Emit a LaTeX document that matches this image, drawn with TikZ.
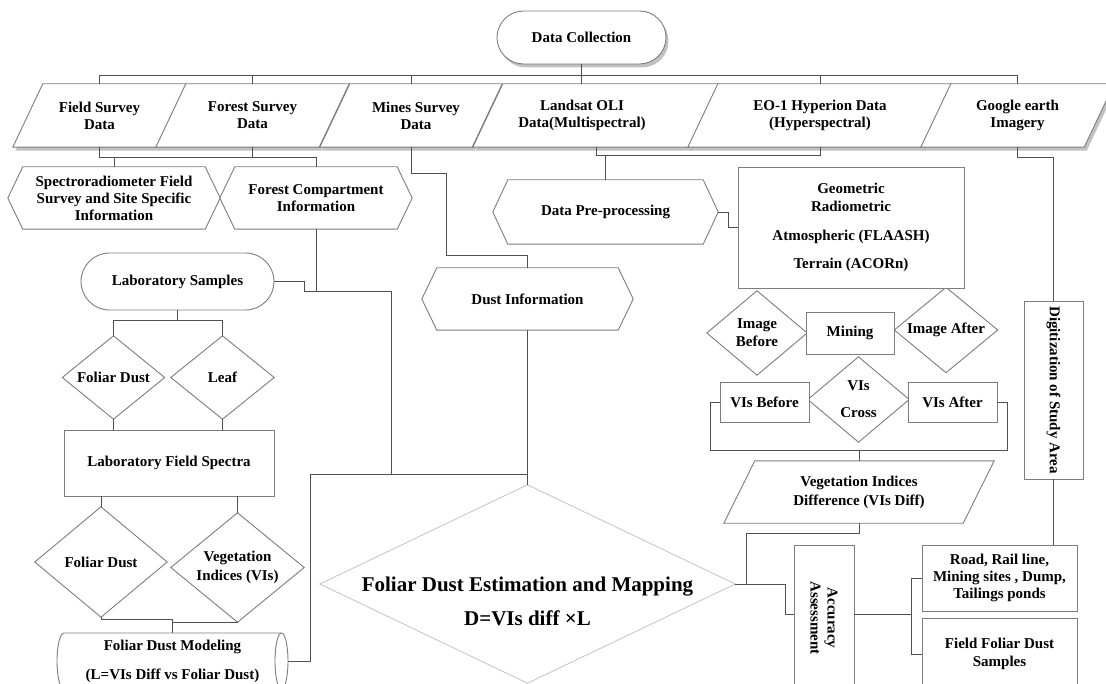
\documentclass[tikz,border=0pt]{standalone}
\usepackage{fontspec}
\setmainfont{Liberation Serif}
\usetikzlibrary{shapes.geometric,shapes.misc,shadows}
\pgfdeclarelayer{bg}
\pgfsetlayers{bg,main}
\definecolor{outl}{RGB}{125,125,125}
\definecolor{conn}{RGB}{80,80,80}
\definecolor{lite}{RGB}{195,195,195}
\newcommand\dfont{\fontsize{15}{17}\selectfont\bfseries}
\newcommand\bigdfont{\fontsize{21}{24}\selectfont\bfseries}
\newcommand\drawpara[2]{\draw[shp] (#1.south west) -- ([xshift=#2pt]#1.north west) -- (#1.north east) -- ([xshift=-#2pt]#1.south east) -- cycle;}
\newcommand\drawhex[2]{\draw[shp] (#1.west) -- ([xshift=#2pt]#1.north west) -- ([xshift=-#2pt]#1.north east) -- (#1.east) -- ([xshift=-#2pt]#1.south east) -- ([xshift=#2pt]#1.south west) -- cycle;}
\newcommand\drawdiam[1]{\draw[shp] (#1.north) -- (#1.east) -- (#1.south) -- (#1.west) -- cycle;}
\begin{document}
\begin{tikzpicture}[x=1pt,y=-1pt,font=\dfont,
  shp/.style={draw=outl, line width=0.9pt, fill=white},
  shad/.style={drop shadow={shadow xshift=2.5pt, shadow yshift=-3.5pt, fill=gray!60, opacity=0.8}},
  ghost/.style={rectangle, inner sep=0pt, align=center},
  box/.style={ghost, draw=outl, line width=0.9pt, fill=white},
  stadium/.style={rounded rectangle, draw=outl, line width=0.9pt, fill=white, inner sep=0pt},
  cn/.style={draw=conn, line width=0.9pt}]
\useasboundingbox (0,0) rectangle (1106,684);
\clip (0,0) rectangle (1106,684);

% ---------- top ----------
\node[stadium, shad, minimum width=169pt, minimum height=53pt] (dc) at (581.5,37.5) {Data Collection};

\node[ghost, minimum width=173pt, minimum height=63pt] (fsd) at (99.5,115.5) {Field Survey\\Data};
\node[ghost, minimum width=193pt, minimum height=63pt] (fosd) at (252.5,115.5) {Forest Survey\\Data};
\node[ghost, minimum width=182pt, minimum height=63pt] (msd) at (411,115.5) {\hspace*{10pt}Mines Survey\\\hspace*{10pt}Data};
\node[ghost, minimum width=246pt, minimum height=63pt] (lsd) at (596,115.5) {\hspace*{-28pt}Landsat OLI\\\hspace*{-28pt}Data(Multispectral)};
\node[ghost, minimum width=264pt, minimum height=63pt] (eod) at (820,115.5) {EO-1 Hyperion Data\\(Hyperspectral)};
\node[ghost, minimum width=193pt, minimum height=63pt] (ged) at (1017.5,115.5) {Google earth\\Imagery};

\node[ghost, minimum width=212pt, minimum height=62pt] (spec) at (114,198) {Spectroradiometer Field\\Survey and Site Specific\\Information};
\node[ghost, minimum width=192pt, minimum height=62pt] (fci) at (316,198) {Forest Compartment\\Information};

\node[ghost, minimum width=225pt, minimum height=64pt] (dp) at (605.5,212) {Data Pre-processing};
\node[ghost, minimum width=211pt, minimum height=62pt] (di) at (527.5,299) {Dust Information};

\node[box, minimum width=226pt, minimum height=121pt] (geo) at (851,227.5) {Geometric\\[1pt]Radiometric\\[12pt]Atmospheric (FLAASH)\\[11pt]Terrain (ACORn)};

% ---------- right middle ----------
\node[ghost, minimum width=100pt, minimum height=84pt] (ib) at (757,333) {Image\\[1pt]Before};
\node[box, minimum width=88pt, minimum height=42pt] (mining) at (850,333) {Mining};
\node[ghost, minimum width=103pt, minimum height=85pt] (ia) at (946,330) {Image After};
\node[ghost, minimum width=101pt, minimum height=85pt] (vc) at (858.5,399.5) {VIs\\[10pt]Cross};
\node[box, minimum width=89pt, minimum height=40pt] (vb) at (764.5,402) {VIs Before};
\node[box, minimum width=89pt, minimum height=40pt] (va) at (952.5,402) {VIs After};
\node[ghost, minimum width=270pt, minimum height=62pt] (vd) at (859,492) {Vegetation Indices\\[2pt]Difference (VIs Diff)};

\node[box, minimum width=59pt, minimum height=178pt] (dig) at (1053.5,390) {};
\node[rotate=-90] (digt) at (dig.center) {Digitization of Study Area};

\node[box, minimum width=60pt, minimum height=155pt] (aa) at (824,622.5) {};
\node[rotate=-90, align=center] (aat) at (824,618) {Accuracy\\Assessment};
\node[box, minimum width=155pt, minimum height=66pt] (rd) at (999.5,578) {Road, Rail line,\\Mining sites , Dump,\\Tailings ponds};
\node[box, minimum width=155pt, minimum height=72pt] (ff) at (999.5,654) {Field Foliar Dust\\[1pt]Samples};

% ---------- left ----------
\node[stadium, minimum width=193pt, minimum height=57pt] (lab) at (177.5,281.5) {Laboratory Samples};
\node[ghost, minimum width=102pt, minimum height=83pt] (fd1) at (113.5,377.5) {Foliar Dust};
\node[ghost, minimum width=103pt, minimum height=83pt] (leaf) at (222.5,377.5) {Leaf};
\node[box, minimum width=210pt, minimum height=66pt] (lfs) at (169,463) {Laboratory Field Spectra};
\node[ghost, minimum width=132pt, minimum height=110pt] (fd2) at (101,562) {Foliar Dust};
\node[ghost, minimum width=133pt, minimum height=109pt] (veg) at (237.5,567.5) {Vegetation\\[2pt]Indices (VIs)};
\node[ghost, minimum width=231pt, minimum height=56pt] (fdm) at (172.5,661) {Foliar Dust Modeling\\[12pt](L=VIs Diff vs Foliar Dust)};

% ---------- centre ----------
\node[ghost, minimum width=415pt, minimum height=198pt] (fde) at (527.5,584) {};
\node[align=center, font=\bigdfont] (fdet) at (527.5,601) {Foliar Dust Estimation and Mapping\\[10pt]D=VIs diff \texttimes L};

% ---------- outlines on background ----------
\begin{pgfonlayer}{bg}
  \draw[shp, shad] (fsd.south west) -- ([xshift=30pt]fsd.north west) -- (fsd.north east) -- ([xshift=-30pt]fsd.south east) -- cycle;
  \draw[shp, shad] (fosd.south west) -- ([xshift=30pt]fosd.north west) -- (fosd.north east) -- ([xshift=-30pt]fosd.south east) -- cycle;
  \draw[shp, shad] (msd.south west) -- ([xshift=30pt]msd.north west) -- (msd.north east) -- ([xshift=-30pt]msd.south east) -- cycle;
  \draw[shp, shad] (lsd.south west) -- ([xshift=30pt]lsd.north west) -- (lsd.north east) -- ([xshift=-30pt]lsd.south east) -- cycle;
  \draw[shp, shad] (eod.south west) -- ([xshift=30pt]eod.north west) -- (eod.north east) -- ([xshift=-30pt]eod.south east) -- cycle;
  \draw[shp, shad] (ged.south west) -- ([xshift=30pt]ged.north west) -- (ged.north east) -- ([xshift=-30pt]ged.south east) -- cycle;
  \drawpara{vd}{31}
  \drawhex{spec}{15}
  \drawhex{fci}{15}
  \drawhex{dp}{15}
  \drawhex{di}{15}
  \drawdiam{ib}
  \drawdiam{ia}
  \drawdiam{vc}
  \drawdiam{fd1}
  \drawdiam{leaf}
  \drawdiam{fd2}
  \drawdiam{veg}
  % horizontal cylinder (Foliar Dust Modeling)
  \draw[shp] (64,633) -- (281.5,633) .. controls (285.1,633) and (288,645.5) .. (288,661)
     .. controls (288,676.5) and (285.1,689) .. (281.5,689) -- (64,689)
     .. controls (60.1,689) and (57,676.5) .. (57,661)
     .. controls (57,645.5) and (60.1,633) .. (64,633) -- cycle;
  \draw[draw=outl, line width=0.9pt] (281.5,633) .. controls (277.9,633) and (275,645.5) .. (275,661)
     .. controls (275,676.5) and (277.9,689) .. (281.5,689);
  \draw[draw=lite, line width=0.8pt, fill=white] (fde.north) -- (fde.east) -- (fde.south) -- (fde.west) -- cycle;
\end{pgfonlayer}

% ---------- connectors ----------
\draw[cn] (dc.south) -- (dc.south |- lsd.north);
\draw[cn] (fsd.north) -- (fsd.north |- 0,75) -- (ged.north |- 0,75) -- (ged.north);
\draw[cn] (fosd.north) -- (fosd.north |- 0,75);
\draw[cn] (msd.north) -- (msd.north |- 0,75);
\draw[cn] (eod.north) -- (eod.north |- 0,75);

\draw[cn] (fsd.south) -- (fsd.south |- 0,157) -- (fci.north |- 0,157) -- (fci.north);
\draw[cn] (fosd.south) -- (fosd.south |- 0,157);
\draw[cn] (spec.north) -- (spec.north |- 0,157);

\draw[cn] (msd.south) |- (446,173) -- (446,255) -| (di.north);

\draw[cn] (lsd.south) |- (eod.south |- 0,155) -- (eod.south);
\draw[cn] (dp.north) -- (dp.north |- 0,155);
\draw[cn] (dp.east) -- ++(10,0) |- (geo.west);

\draw[cn] (ged.south) -- ++(0,10) -| (dig.north);
\draw[cn] (dig.south) -- (dig.south |- rd.north);

\coordinate (j1) at (710,450);
\coordinate (j2) at (1007,450);
\draw[cn] (vb.west) -| (j1) -- (j2) |- (va.east);
\draw[cn] (vd.north) -- (vd.north |- j1);
\draw[cn] (vd.south) -- ++(0,10) -| (746,584) -- (fde.east);
\draw[cn] (fde.east) -- (785,584) |- (aa.west |- 0,614);
\draw[cn] (aa.east |- 0,614) -- (912,614);
\draw[cn] (rd.west) -- ++(-10,0) |- (ff.west);

\draw[cn] (lab.east) -| (304,291) -- (391,291) -- (391,474);
\draw[cn] (fci.south) -- (fci.south |- 0,291);
\draw[cn] (fdm.east) -| (310,474) -- (fde.north |- 0,474) -- (fde.north);
\draw[cn] (di.south) -- (fde.north |- 0,474);

\draw[cn] (lab.south) -- ++(0,10) -| (fd1.north);
\draw[cn] (lab.south) -- ++(0,10) -| (leaf.north);
\draw[cn] (fd1.south) -- (fd1.south |- lfs.north);
\draw[cn] (leaf.south) -- (leaf.south |- lfs.north);
\draw[cn] (fd2.north) -- (fd2.north |- lfs.south);
\draw[cn] (veg.north) -- (veg.north |- lfs.south);
\draw[cn] (fd2.south) -- ++(0,2) -| (fdm.north);
\draw[cn] (veg.south) -| (fdm.north);
\end{tikzpicture}
\end{document}
